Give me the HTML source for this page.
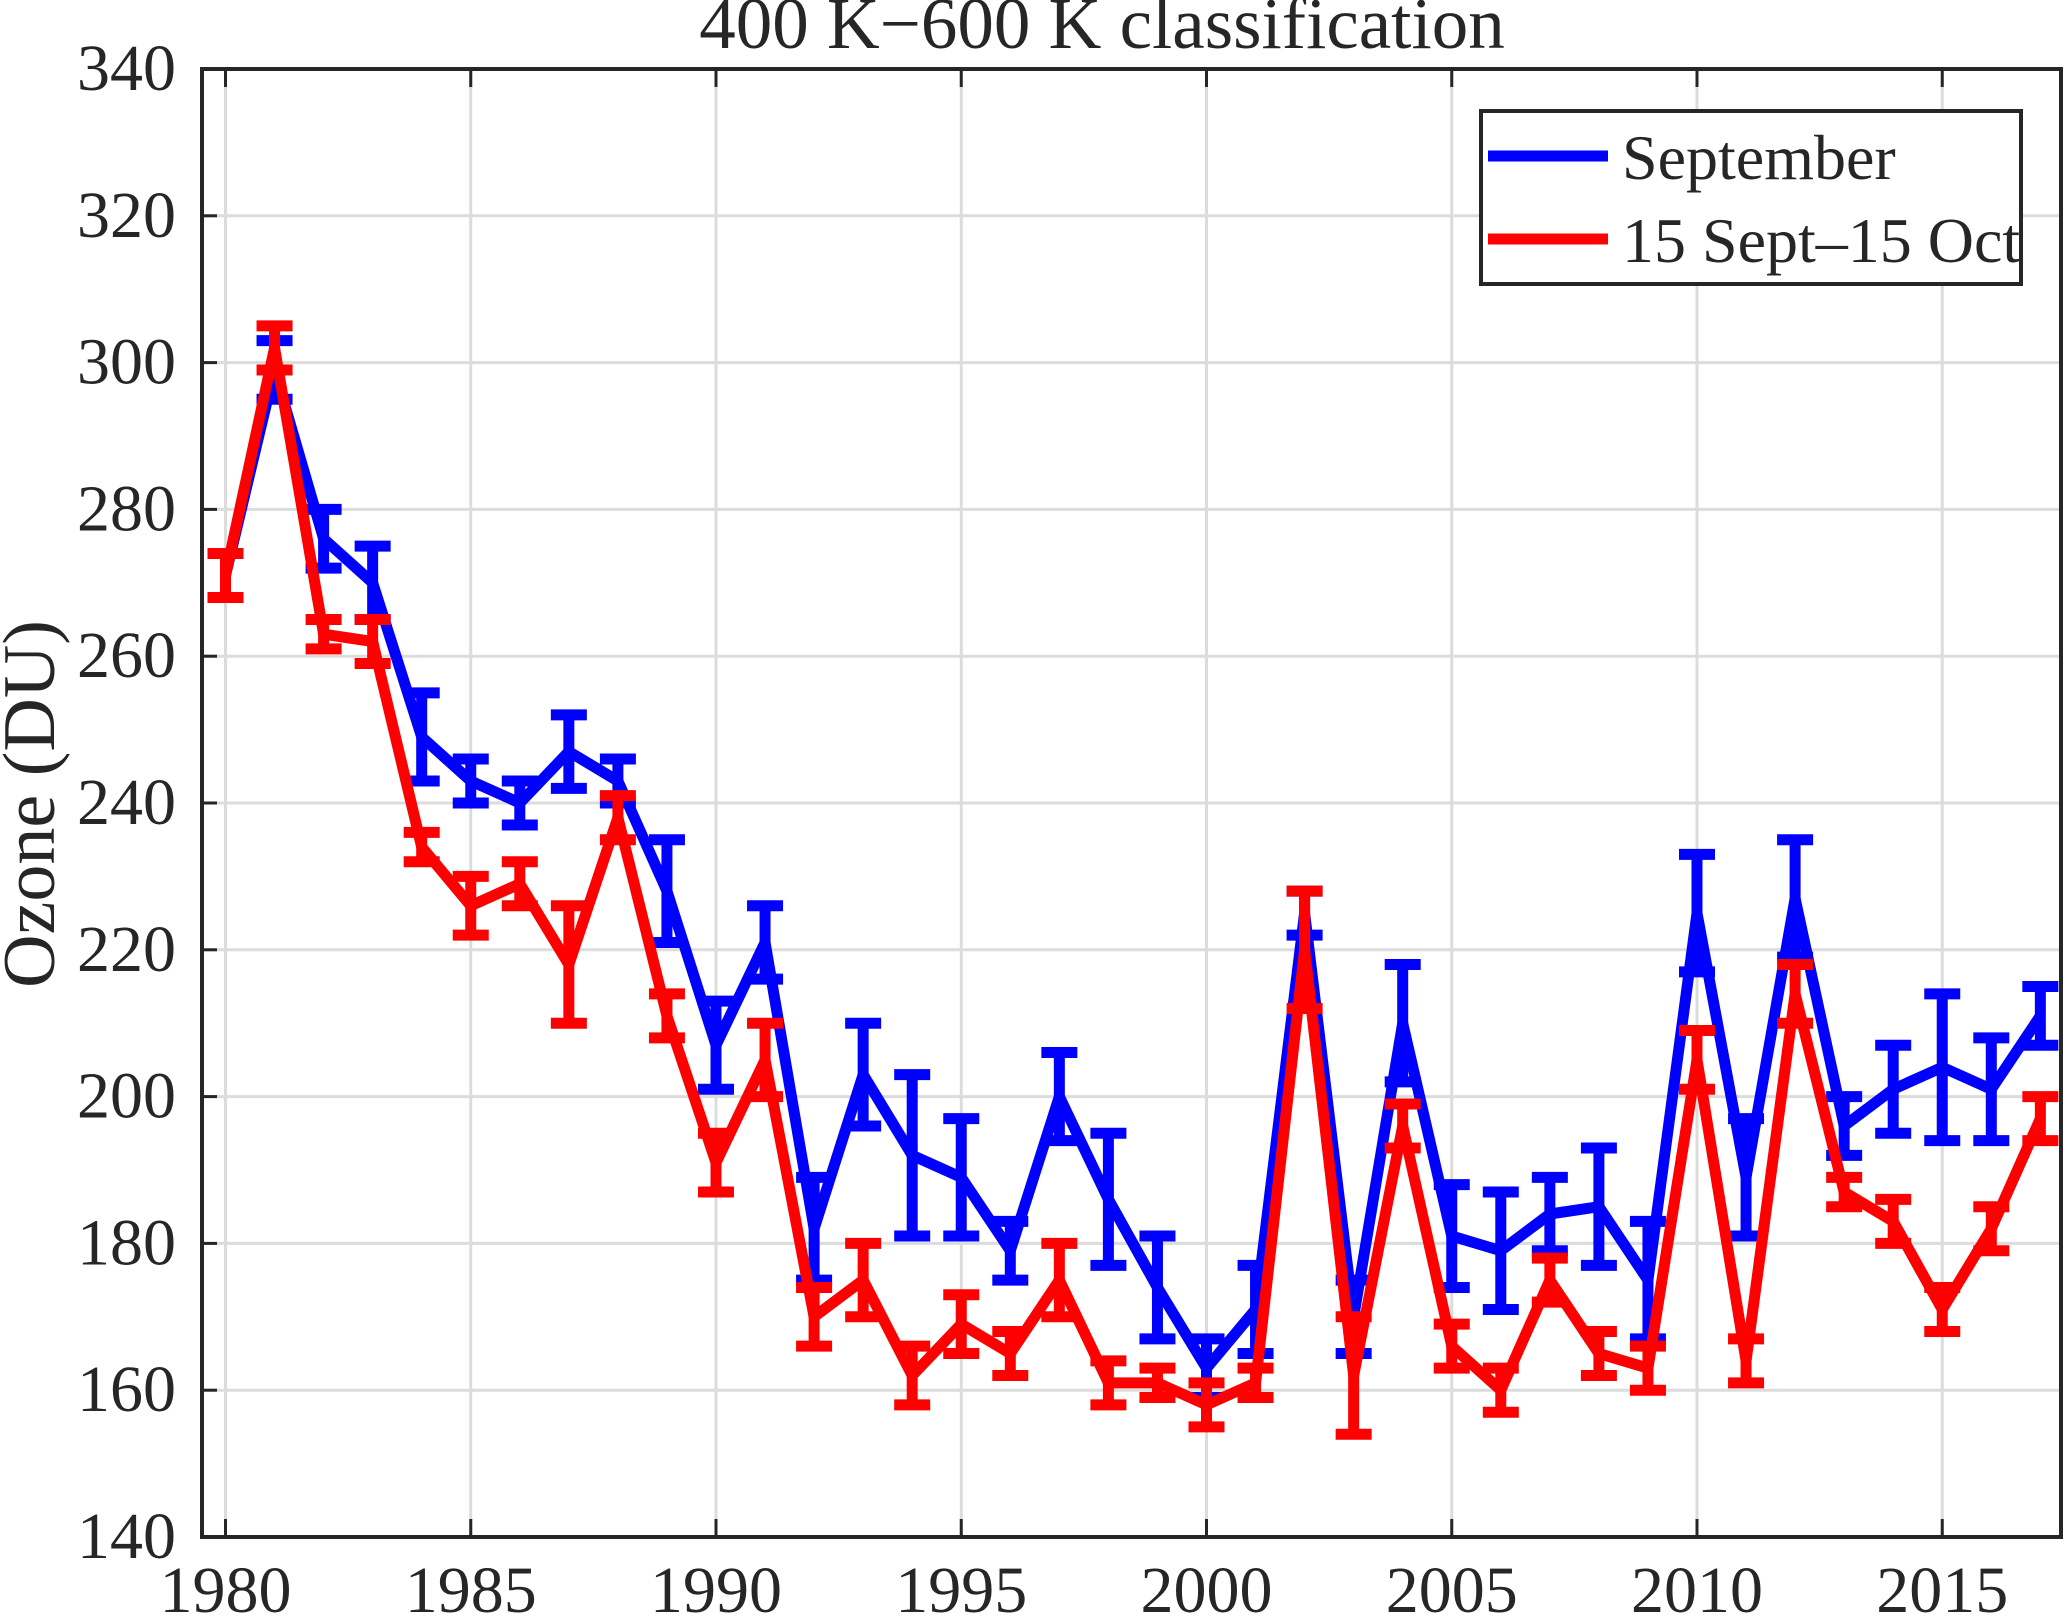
<!DOCTYPE html>
<html><head><meta charset="utf-8"><style>
html,body{margin:0;padding:0;background:#fff}
svg{display:block}
text{font-family:"Liberation Serif","DejaVu Serif",serif;fill:#262626}
</style></head><body>
<svg id="chart" width="2067" height="1622" viewBox="0 0 2067 1622">
<g id="grid"></g>
<g id="series"></g>
<rect x="202" y="69" width="1859" height="1468" fill="none" stroke="#262626" stroke-width="4"/>
<g id="ticks"></g>
<text x="1102" y="48" font-size="73" text-anchor="middle" fill="#000">400 K−600 K classification</text>
<text transform="translate(54,804) rotate(-90)" font-size="74" text-anchor="middle">Ozone (DU)</text>
<g>
<rect x="1481" y="111" width="540" height="173" fill="#fff" stroke="#262626" stroke-width="4"/>
<line x1="1488" y1="156" x2="1608" y2="156" stroke="#0000ff" stroke-width="11"/>
<text x="1622" y="179" font-size="64" fill="#000">September</text>
<line x1="1488" y1="239" x2="1608" y2="239" stroke="#ff0000" stroke-width="11"/>
<text x="1622" y="262" font-size="64" fill="#000">15 Sept–15 Oct</text>
</g>
</svg>
<script>
const years = [1980,1981,1982,1983,1984,1985,1986,1987,1988,1989,1990,1991,1992,1993,1994,1995,1996,1997,1998,1999,2000,2001,2002,2003,2004,2005,2006,2007,2008,2009,2010,2011,2012,2013,2014,2015,2016,2017];
const septValues = [271,299,276,270,249,243,240,247,243,228,207,221,182,203,192,189,179,200,186,174,163,171,225,170,210,181,179,184,185,175,225,189,227,196,201,204,201,211];
const septErrors = [3,4,4,5,6,3,3,5,3,7,6,5,7,7,11,8,4,6,9,7,4,6,3,5,8,7,8,5,8,8,8,8,8,4,6,10,7,4];
const octValues = [271,302,263,262,234,226,229,218,238,211,191,205,170,175,162,169,165,175,161,161,158,161,220,162,196,166,160,175,165,163,205,164,214,187,183,171,182,197];
const octErrors = [3,3,2,3,2,4,3,8,3,3,4,5,4,5,4,4,3,5,3,2,3,2,8,8,3,3,3,3,3,3,4,3,4,2,3,3,3,3];
const yTicks = [140,160,180,200,220,240,260,280,300,320,340];
const xTicks = [1980,1985,1990,1995,2000,2005,2010,2015];

const NS = "http://www.w3.org/2000/svg";
const L=202,R=2061,T=69,B=1537;
const x = v => 225.5 + (v-1980)*49.05;
const y = v => B - (v-140)/200*(B-T);
function mk(tag, attrs, parent){const e=document.createElementNS(NS,tag);for(const k in attrs)e.setAttribute(k,attrs[k]);parent.appendChild(e);return e;}
const grid=document.getElementById('grid'), ticks=document.getElementById('ticks'), series=document.getElementById('series');
yTicks.forEach(t=>{
  if(t>140&&t<340){const g=mk('line',{x1:L,x2:R,y1:y(t),y2:y(t),stroke:'#dcdcdc','stroke-width':3},grid);
  
  }
  const tk=mk('line',{x1:L,x2:L+15,y1:y(t),y2:y(t),stroke:'#262626','stroke-width':3},ticks);
  
  
  const tx=mk('text',{x:176,y:y(t)+21,'font-size':66,'text-anchor':'end'},ticks);
  tx.textContent=t;
  
  
});
xTicks.forEach(t=>{
  const g=mk('line',{x1:x(t),x2:x(t),y1:T,y2:B,stroke:'#dcdcdc','stroke-width':3},grid);
  
  
  const tk=mk('line',{x1:x(t),x2:x(t),y1:B,y2:B-18,stroke:'#262626','stroke-width':3},ticks);
  
  
  const tk2=mk('line',{x1:x(t),x2:x(t),y1:T,y2:T+18,stroke:'#262626','stroke-width':3},ticks);
  
  
  const tx=mk('text',{x:x(t),y:1612,'font-size':66,'text-anchor':'middle'},ticks);
  tx.textContent=t;
  
  
});
function draw(vals, errs, color, name){
  const g=mk('g',{},series);
  
  
  const pts=vals.map((v,i)=>x(years[i])+','+y(v)).join(' ');
  const pl=mk('polyline',{points:pts,fill:'none',stroke:color,'stroke-width':11,'stroke-linejoin':'miter','stroke-miterlimit':3},g);
  
  
  vals.forEach((v,i)=>{
    const cx=x(years[i]), y1=y(v+errs[i]), y2=y(v-errs[i]);
    const p=mk('path',{d:`M${cx},${y1}V${y2}M${cx-18},${y1}H${cx+18}M${cx-18},${y2}H${cx+18}`,stroke:color,'stroke-width':11,fill:'none'},g);
    
    
  });
}
draw(septValues, septErrors, '#0000ff', 'september-series');
draw(octValues, octErrors, '#ff0000', 'sept-oct-series');
</script>
</body></html>
